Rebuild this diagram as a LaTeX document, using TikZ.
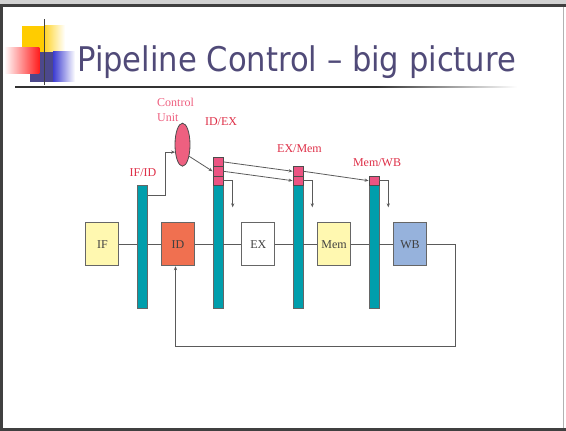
\documentclass[tikz,border=0pt]{standalone}
\usepackage{fontspec}
\setmainfont{Liberation Serif}
\newfontfamily\titlefont{DejaVu Sans}
\usetikzlibrary{shapes.geometric,arrows.meta}
\definecolor{regteal}{RGB}{0,158,172}
\definecolor{cellpink}{RGB}{236,84,130}
\definecolor{lblred}{RGB}{222,48,72}
\definecolor{cupink}{RGB}{238,96,128}
\definecolor{titlecol}{RGB}{80,74,120}
\definecolor{ifyellow}{RGB}{255,248,176}
\definecolor{idorange}{RGB}{240,112,80}
\definecolor{wbblue}{RGB}{150,178,220}
\definecolor{wire}{RGB}{90,90,90}
\definecolor{logoyellow}{RGB}{255,204,0}
\definecolor{logoslate}{RGB}{76,72,140}
\definecolor{logoblue}{RGB}{60,60,210}
\definecolor{logored}{RGB}{255,30,30}
\definecolor{rulegray}{RGB}{50,50,50}
% title rule: solid for most of its length, fading out at the right end
\pgfdeclarehorizontalshading{rulefade}{100bp}{color(0bp)=(rulegray); color(25bp)=(rulegray);
  color(61bp)=(rulegray); color(75bp)=(white); color(100bp)=(white)}
\begin{document}
\begin{tikzpicture}[x=1pt,y=-1pt,
  stagebox/.style={draw=black!60, line width=0.9pt, minimum width=33pt,
    minimum height=43pt, inner sep=0pt, font=\fontsize{12}{14}\selectfont, text=black!75},
  regbar/.style={draw=black!60, fill=regteal, line width=0.8pt, minimum width=10pt,
    minimum height=123pt, inner sep=0pt, anchor=north},
  cell/.style={draw=black!70, fill=cellpink, line width=0.8pt, minimum width=10pt,
    minimum height=9.4pt, inner sep=0pt, anchor=north},
  lbl/.style={text=lblred, font=\fontsize{12}{15}\selectfont, inner sep=0pt},
  wireline/.style={draw=wire, line width=0.8pt},
  arr/.style={wireline, -{Stealth[length=4pt,width=3.2pt]}},
]
\useasboundingbox (0,0) rectangle (566,431);

% slide frame
\fill[gray!35] (0,0) rectangle (566,4);
\fill[black!75] (0,4) rectangle (566,7);
\fill[black!75] (0,4) rectangle (2.7,431);
\fill[black!75] (0,428) rectangle (566,431);
\draw[gray!60, line width=0.8pt] (563,7) -- (563,428);

% logo squares
\fill[logoyellow] (22,25.7) rectangle (45,51.7);
\shade[left color=logoyellow!80, right color=white] (45,25.7) rectangle (65,51.7);
\fill[logoslate] (30,51.7) rectangle (53,81.7);
\shade[left color=logoblue, right color=white] (53,51.7) rectangle (75,81.7);
\shade[left color=white, right color=logored] (4,47.7) rectangle (39.3,73.3);
\fill[black!75] (43.6,19) rectangle (45,85);

% title and rule
\node[anchor=base west, inner sep=0pt, text=titlecol] (title) at (77,71)
  {\scalebox{0.9}[1]{\titlefont\fontsize{34}{40}\selectfont Pipeline Control – big picture}};
\shade[shading=rulefade] (15,86) rectangle (517,87.5);

% pipeline stages
\node[stagebox, fill=ifyellow] (if)  at (102.4,244.3) {IF};
\node[stagebox, fill=idorange] (id)  at (178,244.3)   {ID};
\node[stagebox, fill=white]    (ex)  at (258.3,244.3) {EX};
\node[stagebox, fill=ifyellow] (mem) at (334,244.3)   {Mem};
\node[stagebox, fill=wbblue]   (wb)  at (410,244.3)   {WB};

% pipeline registers
\node[regbar] (ifid)  at (142.5,185) {};
\node[regbar] (idex)  at (218,185) {};
\node[regbar] (exmem) at (298,185) {};
\node[regbar] (memwb) at (374,185) {};

% control fields carried by the registers
\node[cell] (ie1) at (218,156.8) {};
\node[cell] (ie2) at (218,166.2) {};
\node[cell] (ie3) at (218,175.6) {};
\node[cell] (em1) at (298,166.2) {};
\node[cell] (em2) at (298,175.6) {};
\node[cell] (mw1) at (374,175.6) {};

% control unit
\node[ellipse, draw=black!70, fill=cupink, line width=0.8pt, minimum width=15pt,
  minimum height=43pt, inner sep=0pt] (cu) at (182.5,144.7) {};

% labels
\node[lbl, text=cupink, align=left, anchor=west] (lcu) at (157,109.5) {Control\\Unit};
\node[lbl] (lifid)  at (143,172.7) {IF/ID};
\node[lbl] (lidex)  at (221,121.7) {ID/EX};
\node[lbl] (lexmem) at (299.5,149) {EX/Mem};
\node[lbl] (lmemwb) at (377,163)   {Mem/WB};

% datapath wires
\draw[wireline] (if.east) -- (if.east -| ifid.west);
\draw[wireline] (ifid.east |- id.west) -- (id.west);
\draw[wireline] (id.east) -- (id.east -| idex.west);
\draw[wireline] (idex.east |- ex.west) -- (ex.west);
\draw[wireline] (ex.east) -- (ex.east -| exmem.west);
\draw[wireline] (exmem.east |- mem.west) -- (mem.west);
\draw[wireline] (mem.east) -- (mem.east -| memwb.west);
\draw[wireline] (memwb.east |- wb.west) -- (wb.west);

% write-back loop
\coordinate (fbr) at (455,346);
\draw[arr] (wb.east) -| (fbr) -| ([xshift=-2.5pt]id.south);

% control paths
\coordinate (cuin) at (165.7,195);
\draw[arr] (cuin -| ifid.east) -- (cuin) |- (cu.225);
\draw[arr] (cu.300) -- (ie2.west);
\draw[arr] (ie1.east) -- (em1.west);
\draw[arr] (ie2.east) -- (em2.west);
\draw[arr] (em1.east) -- (mw1.west);
\coordinate (exout) at (232.7,207.3);
\coordinate (memout) at (312.3,207.3);
\coordinate (wbout) at (388.3,207.3);
\draw[arr] (ie3.east) -| (exout);
\draw[arr] (em2.east) -| (memout);
\draw[arr] (mw1.east) -| (wbout);
\end{tikzpicture}
\end{document}
